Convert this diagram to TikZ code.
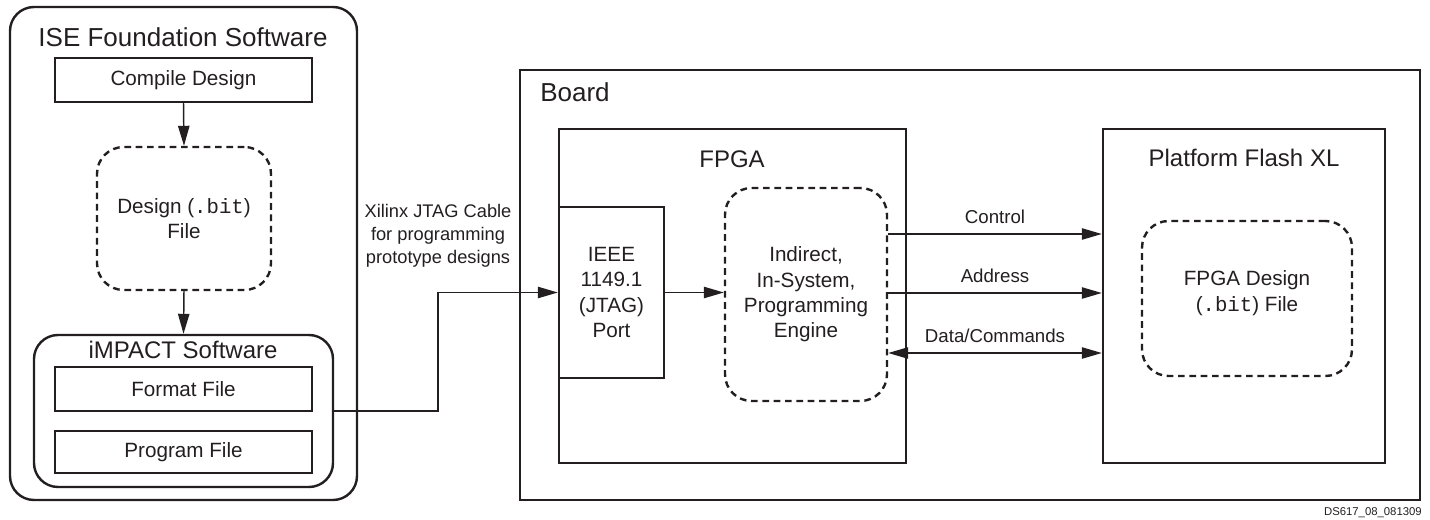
\documentclass[tikz,border=0pt]{standalone}
\usepackage{fontspec}
\setmainfont{Liberation Sans}
\setmonofont{Liberation Mono}
\usetikzlibrary{arrows.meta,fit}
\definecolor{ink}{HTML}{231F20}
\begin{document}
\begin{tikzpicture}[x=0.75pt,y=-0.75pt,
  box/.style={draw=ink, line width=1.8pt, inner sep=0pt},
  rbox/.style={box, rounded corners=18pt},
  dbox/.style={draw=ink, line width=1.8pt, dash pattern=on 5pt off 3.5pt, rounded corners=20pt, inner sep=0pt},
  tip/.style={},
  arr/.style={draw=ink, line width=1.1pt, -{Triangle[length=15pt,width=8.5pt]}},
  darr/.style={draw=ink, line width=1.1pt, {Triangle[length=15pt,width=8.5pt]}-{Triangle[length=15pt,width=8.5pt]}},
  big/.style={font=\fontsize{18}{21}\selectfont, inner sep=0pt, text=ink},
  mid/.style={font=\fontsize{15.5}{19}\selectfont, align=center, inner sep=0pt, text=ink},
  sml/.style={font=\fontsize{13.7}{17.25}\selectfont, align=center, inner sep=0pt, text=ink},
  lab/.style={font=\fontsize{14}{17}\selectfont, inner sep=0pt, text=ink}
]
\useasboundingbox (0,0) rectangle (1430,520);

% ---- ISE Foundation Software ----
\node[rbox, fit={(10,7)(357,500)}] (ise) {};
\node[big, font=\fontsize{19.5}{22}\selectfont] (isetitle) at (183,37) {ISE Foundation Software};
\node[box, fit={(55,58)(312,102)}] (compile) {};
\node[mid] (compiletext) at (compile.center) {Compile Design};
\node[dbox, fit={(97,147)(271,290)}] (design) {};
\node[mid] (designtext) at (design.center) {Design (\texttt{.bit})\\File};
\node[rbox, fit={(34,335)(333,487)}] (impact) {};
\node[big] (impacttitle) at (183,350) {iMPACT Software};
\node[box, fit={(55,367)(312,411)}] (format) {};
\node[mid] (formattext) at (format.center) {Format File};
\node[box, fit={(55,431)(312,473)}] (program) {};
\node[mid] (programtext) at (program.center) {Program File};

\draw[arr] (compile.south) -- (design.north);
\draw[arr] (design.south) -- (impact.north);

% ---- Board ----
\node[box, fit={(520,70)(1420,500)}] (board) {};
\node[big, font=\fontsize{19.5}{22}\selectfont, anchor=west] (boardtitle) at (540,92) {Board};

\node[box, fit={(559,129)(906,463)}] (fpga) {};
\node[big] (fpgatitle) at (732,159) {FPGA};
\node[box, fit={(559,207)(664,378)}] (ieee) {};
\node[mid] (ieeetext) at (ieee.center) {IEEE\\1149.1\\(JTAG)\\Port};
\node[dbox, fit={(725,188)(887,401)}] (engine) {};
\node[mid] (enginetext) at (engine.center) {Indirect,\\In-System,\\Programming\\Engine};

\node[box, fit={(1103,129)(1385,463)}] (flash) {};
\node[big] (flashtitle) at (1244,158) {Platform Flash XL};
\node[dbox, fit={(1142,221)(1352,376)}] (fdes) {};
\node[mid] (fdestext) at (1247,293) {FPGA Design\\(\texttt{.bit}) File};

% ---- Cable ----
\coordinate (cab) at (438,350);
\draw[arr] (impact.east) -| (cab) |- (ieee.west);
\node[sml] (cablelabel) at (438,236) {Xilinx JTAG Cable\\for programming\\prototype designs};

\draw[arr] (ieee.east) -- (engine.west |- ieee.east);

\coordinate (yctl) at (0,234);
\coordinate (yadr) at (0,293);
\coordinate (ydat) at (0,353);
\draw[arr] (engine.east |- yctl) -- node[lab, midway, above=7pt] {Control} (flash.west |- yctl);
\draw[arr] (engine.east |- yadr) -- node[lab, midway, above=7pt] {Address} (flash.west |- yadr);
\draw[darr] (engine.east |- ydat) -- node[lab, midway, above=7pt] {Data/Commands} (flash.west |- ydat);

\node[font=\fontsize{8.5}{10}\selectfont, anchor=east, inner sep=0pt, text=ink] (ds) at (1422,513) {DS617\_08\_081309};
\end{tikzpicture}
\end{document}
